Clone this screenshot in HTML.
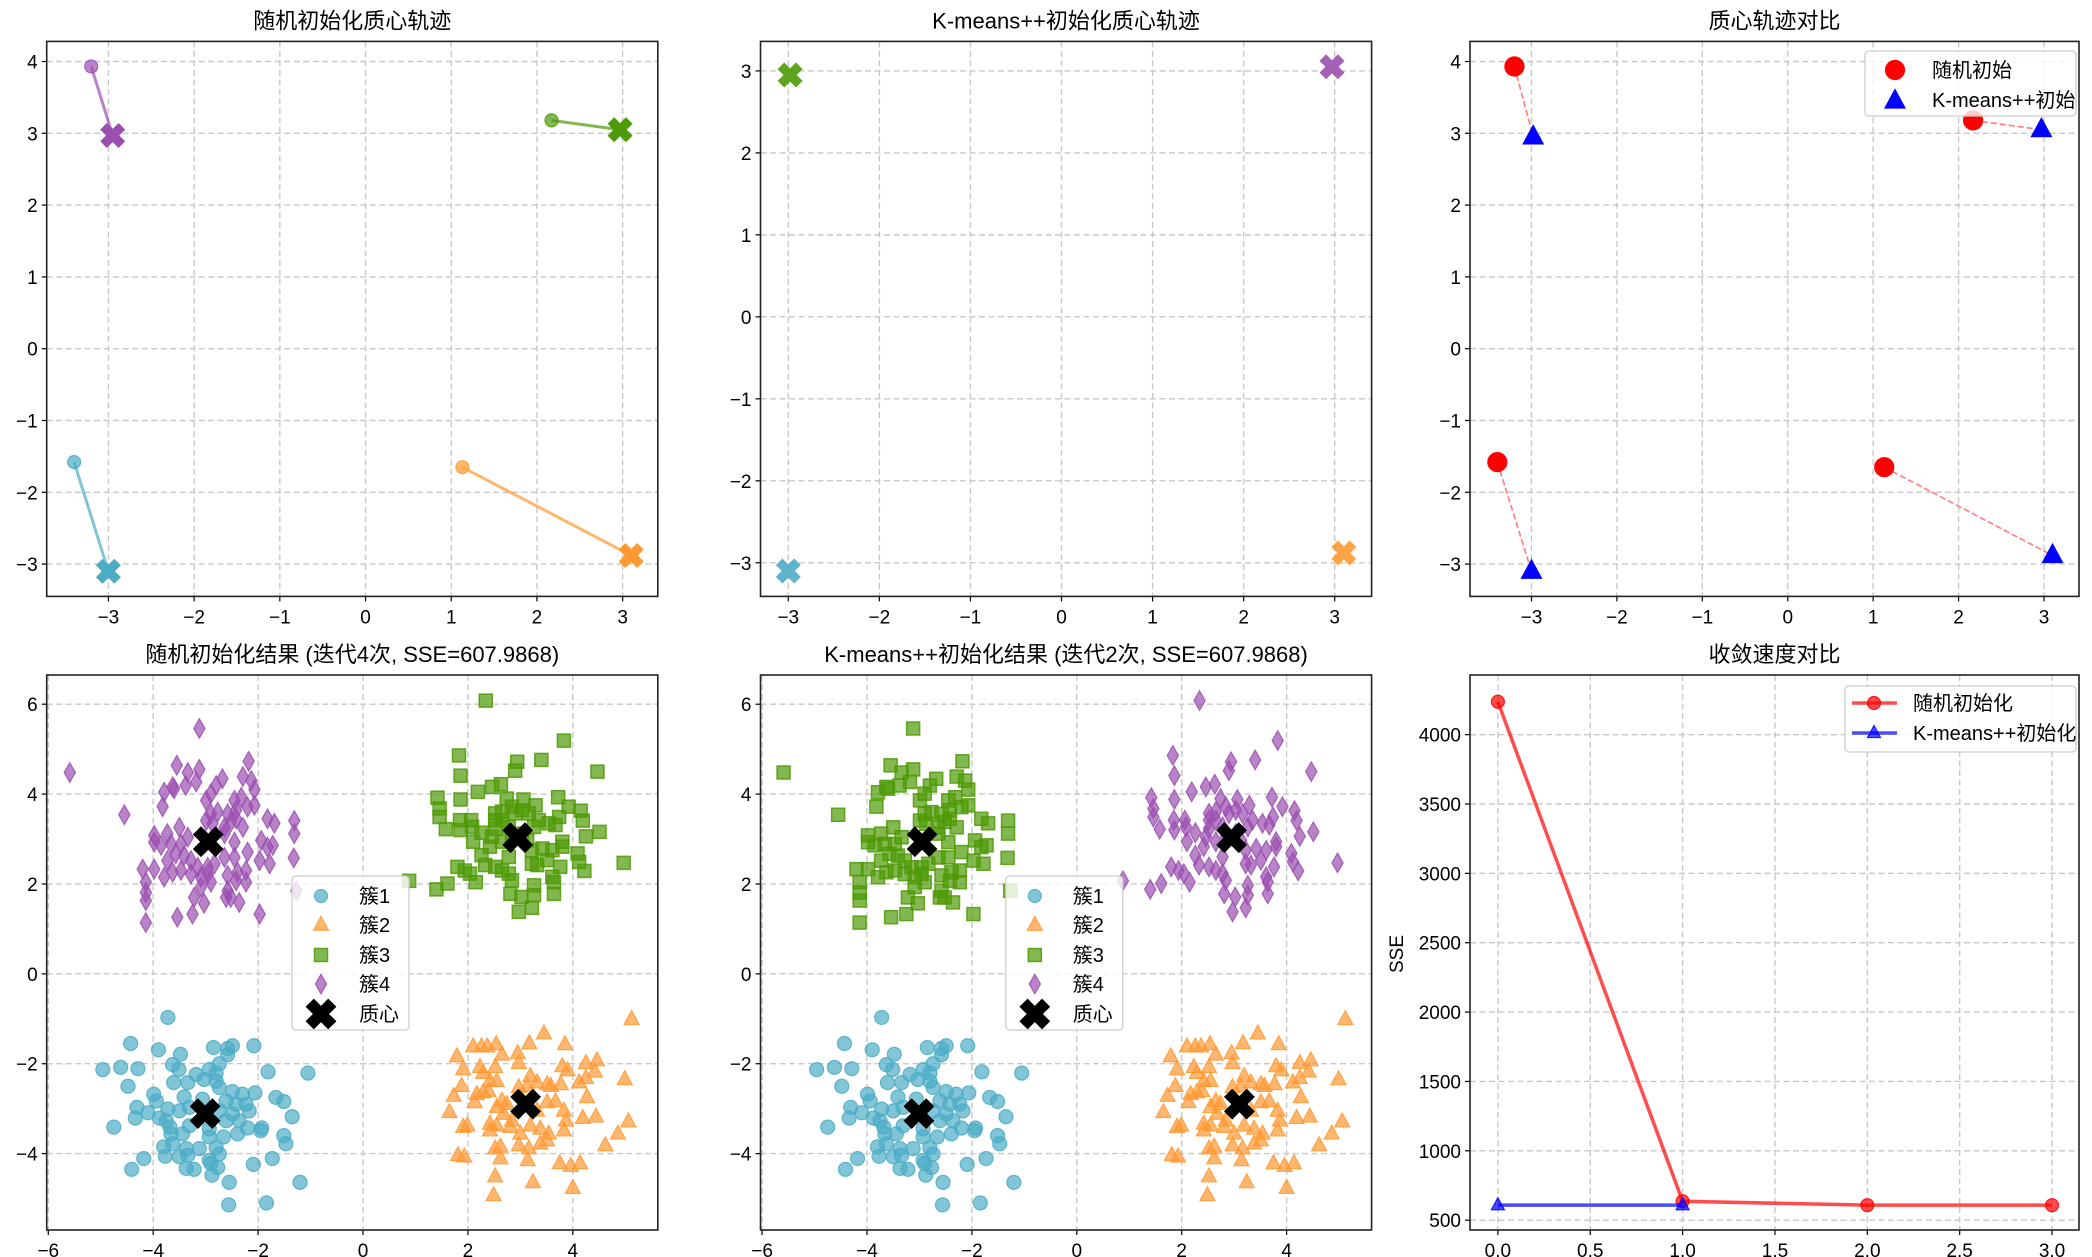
<!DOCTYPE html>
<html><head><meta charset="utf-8">
<style>
html,body{margin:0;padding:0;background:#fff;}
svg{display:block;font-family:"WenQuanYi Zen Hei","Liberation Sans","Noto Sans CJK SC",sans-serif;}
</style></head>
<body>
<svg id="fig" width="2092" height="1257" viewBox="0 0 2092 1257" xmlns="http://www.w3.org/2000/svg"></svg>
<script>
// ---------- data ----------
const trajInitX = [-3.2, 2.17, -3.4, 1.13];
const trajInitY = [3.93, 3.18, -1.58, -1.65];
const trajFinalX = [-2.95, 2.97, -3.0, 3.1];
const trajFinalY = [2.97, 3.05, -3.1, -2.88];
const kppX = [-2.98, 2.97, -3.0, 3.1];
const kppY = [2.95, 3.05, -3.1, -2.88];
const sseIter = [0, 1, 2, 3];
const sseRandom = [4237, 636, 608, 608];
const sseKppIter = [0, 1];
const sseKpp = [608, 608];
const centX = [-3.01, 3.10, 2.95, -2.95];
const centY = [-3.11, -2.90, 3.03, 2.94];
const clusterA = [[-3.72,-0.97],[-4.43,-1.55],[-3.90,-1.69],[-3.48,-1.79],[-2.85,-1.64],[-2.58,-1.66],[-2.49,-1.60],[-2.58,-1.80],[-2.08,-1.60],[-4.96,-2.13],[-4.62,-2.08],[-4.29,-2.11],[-3.63,-2.02],[-3.51,-2.13],[-2.74,-2.00],[-2.93,-2.13],[-2.80,-2.21],[-1.81,-2.18],[-1.05,-2.21],[-4.48,-2.50],[-3.61,-2.42],[-3.34,-2.42],[-3.18,-2.24],[-3.03,-2.35],[-2.80,-2.39],[-2.74,-2.53],[-2.49,-2.62],[-2.30,-2.68],[-2.06,-2.65],[-3.99,-2.68],[-3.94,-2.83],[-3.41,-2.74],[-3.06,-2.79],[-2.61,-2.83],[-2.42,-2.90],[-1.66,-2.75],[-1.51,-2.84],[-4.31,-2.97],[-4.34,-3.21],[-4.10,-3.09],[-3.88,-3.21],[-3.72,-3.01],[-3.50,-3.05],[-3.31,-2.97],[-2.74,-3.05],[-2.49,-3.12],[-2.17,-3.05],[-1.35,-3.18],[-4.75,-3.41],[-3.68,-3.41],[-3.66,-3.56],[-3.44,-3.56],[-3.31,-3.38],[-2.93,-3.45],[-2.93,-3.63],[-2.66,-3.63],[-2.39,-3.56],[-2.20,-3.43],[-1.93,-3.43],[-1.95,-3.49],[-1.51,-3.60],[-1.47,-3.78],[-3.80,-3.85],[-3.77,-4.06],[-3.63,-3.78],[-3.37,-3.89],[-3.50,-4.07],[-3.34,-4.04],[-3.12,-3.89],[-2.80,-3.87],[-2.74,-4.01],[-2.93,-4.15],[-1.73,-4.11],[-4.18,-4.11],[-4.41,-4.35],[-3.37,-4.33],[-3.22,-4.35],[-2.90,-4.22],[-2.77,-4.31],[-2.09,-4.24],[-2.88,-4.48],[-2.55,-4.64],[-1.20,-4.64],[-2.56,-5.14],[-1.84,-5.10],[-2.36,-3.27],[-2.61,-3.27],[-3.75,-3.27],[-2.23,-2.90]];
const clusterB = [[5.12,-1.01],[3.45,-1.33],[3.17,-1.55],[3.85,-1.57],[2.10,-1.62],[2.26,-1.62],[2.37,-1.62],[2.54,-1.57],[2.65,-1.80],[2.95,-1.77],[1.79,-1.84],[2.97,-1.99],[1.91,-2.13],[2.23,-2.08],[2.52,-2.08],[2.29,-2.21],[2.42,-2.39],[2.55,-2.39],[1.88,-2.50],[1.73,-2.72],[2.17,-2.68],[2.29,-2.64],[2.39,-2.61],[2.13,-2.86],[3.19,-2.28],[3.32,-2.42],[3.51,-2.46],[3.58,-2.50],[3.77,-2.46],[3.80,-2.06],[3.90,-2.15],[4.25,-1.99],[4.46,-1.93],[4.42,-2.18],[4.25,-2.32],[4.12,-2.42],[4.99,-2.35],[4.27,-2.75],[3.67,-2.84],[3.51,-2.86],[2.65,-2.83],[2.55,-2.97],[2.74,-2.90],[2.97,-2.53],[3.13,-2.50],[1.65,-3.08],[1.91,-3.41],[1.99,-3.38],[2.42,-3.34],[2.55,-3.38],[2.42,-3.49],[2.81,-3.41],[3.00,-3.56],[3.19,-3.38],[3.38,-3.45],[3.54,-3.56],[3.83,-3.05],[3.87,-3.27],[3.83,-3.49],[4.19,-3.21],[4.44,-3.18],[5.06,-3.29],[4.86,-3.56],[4.62,-3.82],[2.62,-3.85],[2.52,-3.89],[2.97,-3.82],[3.16,-3.89],[3.38,-3.78],[3.51,-3.71],[1.81,-4.04],[1.93,-4.07],[2.62,-4.11],[3.14,-4.15],[3.75,-4.22],[3.96,-4.28],[4.14,-4.22],[2.52,-4.51],[3.24,-4.64],[4.00,-4.77],[2.49,-4.93],[2.84,-3.27],[3.32,-3.05],[2.68,-3.12]];
const clusterC = [[2.34,6.08],[3.83,5.19],[1.83,4.86],[2.94,4.72],[3.40,4.76],[2.90,4.52],[4.47,4.50],[1.86,4.41],[2.19,4.05],[2.46,4.16],[2.63,4.22],[1.42,3.92],[1.86,3.88],[2.74,3.90],[3.06,3.88],[3.29,3.75],[3.72,3.93],[3.92,3.72],[4.15,3.63],[1.46,3.68],[1.46,3.49],[1.85,3.42],[2.06,3.42],[2.08,3.27],[1.58,3.22],[1.86,3.20],[2.26,3.14],[2.52,3.57],[2.65,3.42],[2.84,3.72],[3.03,3.64],[3.16,3.57],[3.35,3.42],[3.54,3.35],[3.74,3.49],[3.67,3.31],[4.19,3.41],[4.51,3.16],[4.25,3.06],[2.52,3.23],[2.46,3.05],[2.65,2.94],[2.84,3.05],[2.10,2.94],[2.42,2.83],[3.22,2.75],[3.42,2.79],[3.61,2.75],[3.80,2.94],[3.80,2.83],[4.09,2.68],[4.12,2.49],[4.22,2.29],[4.97,2.47],[2.26,2.64],[2.78,2.60],[1.80,2.38],[1.94,2.30],[2.04,2.23],[2.33,2.42],[2.52,2.38],[2.65,2.30],[2.78,2.23],[2.84,2.08],[3.22,2.45],[3.32,2.42],[3.51,2.53],[3.76,2.38],[3.61,2.16],[3.64,2.04],[0.88,2.07],[1.40,1.88],[1.61,2.01],[2.15,2.04],[2.81,1.78],[3.02,1.71],[3.26,1.75],[3.26,1.97],[3.64,1.78],[3.22,1.47],[2.97,1.38],[3.03,3.12],[3.13,2.97],[2.65,3.61],[2.90,3.57],[2.78,3.27],[3.26,3.27],[2.52,3.42]];
const clusterD = [[-5.59,4.48],[-3.12,5.46],[-4.55,3.54],[-3.55,4.64],[-3.34,4.48],[-3.12,4.55],[-2.18,4.73],[-2.29,4.39],[-2.68,4.34],[-2.13,4.30],[-2.07,4.10],[-3.18,4.27],[-3.38,4.19],[-3.63,4.16],[-3.79,4.04],[-3.60,4.12],[-2.80,4.19],[-2.90,4.01],[-2.99,3.86],[-3.82,3.72],[-2.45,3.86],[-2.32,3.93],[-2.20,3.71],[-2.07,3.75],[-2.90,3.56],[-2.77,3.60],[-2.58,3.56],[-2.42,3.64],[-2.29,3.26],[-2.99,3.41],[-2.87,3.34],[-2.64,3.26],[-2.52,3.38],[-2.42,3.45],[-1.82,3.45],[-1.69,3.35],[-1.31,3.41],[-1.31,3.12],[-3.98,3.08],[-3.73,3.12],[-3.50,3.26],[-3.34,3.04],[-3.47,2.89],[-3.66,2.89],[-3.85,2.86],[-3.98,2.93],[-2.45,2.93],[-2.64,3.12],[-1.94,2.97],[-1.82,2.82],[-1.72,2.86],[-1.32,2.58],[-1.97,2.52],[-1.78,2.45],[-2.20,2.71],[-2.45,2.59],[-2.64,2.59],[-2.83,2.45],[-2.96,2.37],[-3.15,2.37],[-3.28,2.52],[-3.41,2.63],[-3.57,2.67],[-3.73,2.52],[-4.20,2.33],[-3.98,2.33],[-3.79,2.15],[-3.63,2.26],[-3.47,2.30],[-3.28,2.22],[-3.09,2.15],[-2.96,2.22],[-2.58,2.19],[-2.39,2.26],[-2.23,2.30],[-2.42,2.07],[-2.23,2.04],[-3.09,1.93],[-2.90,2.04],[-4.14,2.04],[-4.14,1.81],[-4.14,1.63],[-3.22,1.70],[-3.03,1.57],[-2.61,1.70],[-2.58,1.85],[-2.36,1.59],[-2.52,1.70],[-3.54,1.26],[-3.25,1.33],[-4.14,1.14],[-1.97,1.33],[-1.27,1.85]];
const ticks1X = [-3,-2,-1,0,1,2,3];
const ticks1Y = [-3,-2,-1,0,1,2,3,4];
const ticks2Y = [-3,-2,-1,0,1,2,3];
const ticks4 = [-6,-4,-2,0,2,4];
const ticks4Y = [-4,-2,0,2,4,6];
const ticks6X = [0,0.5,1,1.5,2,2.5,3];
const ticks6Y = [500,1000,1500,2000,2500,3000,3500,4000];

// ---------- helpers ----------
const NS = "http://www.w3.org/2000/svg";
const fig = document.getElementById('fig');
const C = {cyan:'#4bacc6', orange:'#ff9933', green:'#4e9a06', purple:'#9b4fb0'};
function el(tag, attrs, parent){ const e=document.createElementNS(NS,tag); for(const k in attrs) e.setAttribute(k,attrs[k]); (parent||fig).appendChild(e); return e; }
function fmt(v,dec){ const s = dec ? v.toFixed(1) : String(v); return s.replace('-', '\u2212'); }
function makeAxes(name, box, xr, yr, xt, yt, title, xdec){
  const g = el('g',{});
  
  
  const sx = v => box.l + (v - xr[0])/(xr[1]-xr[0])*(box.r-box.l);
  const sy = v => box.b - (v - yr[0])/(yr[1]-yr[0])*(box.b-box.t);
  const grid = el('g',{stroke:'#c8c8c8','stroke-width':1.4,'stroke-dasharray':'6,3.5'}, g);
  
  
  xt.forEach(v=>{ const x=sx(v); el('line',{x1:x,x2:x,y1:box.t,y2:box.b},grid);
    el('line',{x1:x,x2:x,y1:box.b,y2:box.b+5,stroke:'#000','stroke-width':1.2},g);
    const t=el('text',{x:x,y:box.b+27,'font-size':19,'text-anchor':'middle',fill:'#000'},g); t.textContent=fmt(v,xdec);
    
     });
  yt.forEach(v=>{ const y=sy(v); el('line',{x1:box.l,x2:box.r,y1:y,y2:y},grid);
    el('line',{x1:box.l-5,x2:box.l,y1:y,y2:y,stroke:'#000','stroke-width':1.2},g);
    const t=el('text',{x:box.l-9,y:y+7,'font-size':19,'text-anchor':'end',fill:'#000'},g); t.textContent=fmt(v,false);
    
     });
  const tt = el('text',{x:(box.l+box.r)/2,y:box.t-13,'font-size':22,'text-anchor':'middle',fill:'#000'},g);
  tt.textContent = title;
  
  
  const marks = el('g',{},g);
  const fr = el('rect',{x:box.l,y:box.t,width:box.r-box.l,height:box.b-box.t,fill:'none',stroke:'#222','stroke-width':1.6},g);
  
  
  return {g, marks, sx, sy, box};
}
function xPath(cx, cy, s){
  const t=0.36, pts=[[t,1],[t,t],[1,t],[1,-t],[t,-t],[t,-1],[-t,-1],[-t,-t],[-1,-t],[-1,t],[-t,t],[-t,1]];
  const c=Math.SQRT1_2;
  return 'M'+pts.map(p=>[(cx+(p[0]*c-p[1]*c)*s).toFixed(1),(cy+(p[0]*c+p[1]*c)*s).toFixed(1)].join(',')).join('L')+'Z';
}
function marker(parent, type, x, y, s, fill, op){
  let e;
  if(type==='o') e=el('circle',{cx:x,cy:y,r:s,fill:fill,stroke:fill,'stroke-width':1.2,'fill-opacity':op,'stroke-opacity':Math.min(1,op+0.15)},parent);
  else if(type==='^') e=el('path',{d:`M${x},${y-s*1.15}L${x+s},${y+s*0.7}L${x-s},${y+s*0.7}Z`,fill:fill,stroke:fill,'stroke-width':1.2,'fill-opacity':op,'stroke-opacity':Math.min(1,op+0.15)},parent);
  else if(type==='s') e=el('rect',{x:x-s,y:y-s,width:2*s,height:2*s,fill:fill,stroke:fill,'stroke-width':1.5,'fill-opacity':op,'stroke-opacity':Math.min(1,op+0.15)},parent);
  else if(type==='d') e=el('path',{d:`M${x},${y-s*1.3}L${x+s*0.75},${y}L${x},${y+s*1.3}L${x-s*0.75},${y}Z`,fill:fill,stroke:fill,'stroke-width':1.2,'fill-opacity':op,'stroke-opacity':Math.min(1,op+0.15)},parent);
  else if(type==='X') e=el('path',{d:xPath(x,y,s),fill:fill,'fill-opacity':op},parent);
  return e;
}

// ---------- layout ----------
const colL=[46.7,760.5,1470], colR=[657.8,1371.6,2079];
const rowT=[41.4,675], rowB=[596.4,1230];
const rngX1=[-3.72,3.41], rngY1=[-3.45,4.28];

// Panel 1: random init trajectories
(function(){
  const A = makeAxes('random-init-trajectory-plot',{l:colL[0],r:colR[0],t:rowT[0],b:rowB[0]},rngX1,rngY1,ticks1X,ticks1Y,'随机初始化质心轨迹',false);
  const cols=[C.purple,C.green,C.cyan,C.orange];
  trajInitX.forEach((v,i)=>{
    const ln=el('line',{x1:A.sx(v),y1:A.sy(trajInitY[i]),x2:A.sx(trajFinalX[i]),y2:A.sy(trajFinalY[i]),stroke:cols[i],'stroke-width':3,'stroke-opacity':0.7},A.marks);
    
    
    const m=marker(A.marks,'o',A.sx(v),A.sy(trajInitY[i]),6.5,cols[i],0.7);
    
    
    const f=marker(A.marks,'X',A.sx(trajFinalX[i]),A.sy(trajFinalY[i]),13,cols[i],1);
    
    
  });
})();

// Panel 2: kmeans++ centroids
(function(){
  const A = makeAxes('kmeanspp-trajectory-plot',{l:colL[1],r:colR[1],t:rowT[0],b:rowB[0]},[-3.305,3.405],[-3.41,3.36],ticks1X,ticks2Y,'K-means++初始化质心轨迹',false);
  const cols=[C.green,C.purple,C.cyan,C.orange];
  kppX.forEach((v,i)=>{
    const f=marker(A.marks,'X',A.sx(v),A.sy(kppY[i]),13,cols[i],0.9);
    
    
  });
})();

// Panel 3: comparison
(function(){
  const A = makeAxes('centroid-comparison-plot',{l:colL[2],r:colR[2],t:rowT[0],b:rowB[0]},rngX1,rngY1,ticks1X,ticks1Y,'质心轨迹对比',false);
  trajInitX.forEach((v,i)=>{
    const ln=el('line',{x1:A.sx(v),y1:A.sy(trajInitY[i]),x2:A.sx(kppX[i]),y2:A.sy(kppY[i]),stroke:'#ff0000','stroke-width':1.7,'stroke-opacity':0.5,'stroke-dasharray':'6,3'},A.marks);
    
    
  });
  trajInitX.forEach((v,i)=>{
    const m=marker(A.marks,'o',A.sx(v),A.sy(trajInitY[i]),9.5,'#ff0000',1);
    
    
  });
  kppX.forEach((v,i)=>{
    const m=marker(A.marks,'^',A.sx(v),A.sy(kppY[i]),10,'#0000ff',1);
    
    
  });
  const lg=el('g',{},A.g);
  
  
  el('rect',{x:1865,y:51,width:211,height:65,rx:4,fill:'#fff','fill-opacity':0.8,stroke:'#ccc','stroke-width':1.3},lg);
  marker(lg,'o',1895,70,9.5,'#ff0000',1);
  marker(lg,'^',1895,101,10,'#0000ff',1);
  const t1=el('text',{x:1932,y:77,'font-size':20},lg); t1.textContent='随机初始';
  
  
  const t2=el('text',{x:1932,y:107,'font-size':20},lg); t2.textContent='K-means++初始';
  
  
})();

// Panels 4 & 5: cluster results
function clusterPanel(name, col, title, assign){
  const A = makeAxes(name,{l:colL[col],r:colR[col],t:rowT[1],b:rowB[1]},[-6.03,5.62],[-5.70,6.65],ticks4,ticks4Y,title,false);
  assign.forEach(a=>{
    a.pts.forEach(p=>{
      const m=marker(A.marks,a.type,A.sx(p[0]),A.sy(p[1]),a.size,a.color,0.7);
      
      
    });
  });
  centX.forEach((v,i)=>{
    const m=marker(A.marks,'X',A.sx(v),A.sy(centY[i]),16,'#000',1);
    
    
  });
  const dx = colL[col]-colL[0];
  const lg=el('g',{transform:`translate(${dx},0)`},A.g);
  
  
  el('rect',{x:292,y:876,width:117,height:154,rx:4,fill:'#fff','fill-opacity':0.8,stroke:'#ccc','stroke-width':1.3},lg);
  const labels=['簇1','簇2','簇3','簇4','质心'];
  const types=[['o',C.cyan,6.5],['^',C.orange,7.5],['s',C.green,6.5],['d',C.purple,7.5],['X','#000',16]];
  const ys=[896,925,955,984,1014];
  labels.forEach((lab,i)=>{
    marker(lg,types[i][0],321,ys[i],types[i][2],types[i][1],i===4?1:0.7);
    const t=el('text',{x:359,y:ys[i]+7,'font-size':20},lg); t.textContent=lab;
    
    
  });
}
clusterPanel('random-init-result-plot',0,'随机初始化结果 (迭代4次, SSE=607.9868)',[
  {pts:clusterA,type:'o',color:C.cyan,size:7},
  {pts:clusterB,type:'^',color:C.orange,size:7.5},
  {pts:clusterC,type:'s',color:C.green,size:6.5},
  {pts:clusterD,type:'d',color:C.purple,size:7.5}]);
clusterPanel('kmeanspp-result-plot',1,'K-means++初始化结果 (迭代2次, SSE=607.9868)',[
  {pts:clusterA,type:'o',color:C.cyan,size:7},
  {pts:clusterB,type:'^',color:C.orange,size:7.5},
  {pts:clusterD,type:'s',color:C.green,size:6.5},
  {pts:clusterC,type:'d',color:C.purple,size:7.5}]);

// Panel 6: convergence
(function(){
  const A = makeAxes('convergence-plot',{l:colL[2],r:colR[2],t:rowT[1],b:rowB[1]},[-0.151,3.146],[429,4430],ticks6X,ticks6Y,'收敛速度对比',true);
  const yl=el('text',{x:0,y:0,'font-size':19,'text-anchor':'middle',transform:'translate(1403,954) rotate(-90)'},A.g);
  yl.textContent='SSE';
  
  
  const pr=el('polyline',{points:sseIter.map((v,i)=>A.sx(v)+','+A.sy(sseRandom[i])).join(' '),fill:'none',stroke:'#ff0000','stroke-width':3.5,'stroke-opacity':0.7},A.marks);
  
  
  sseIter.forEach((v,i)=>{
    const m=marker(A.marks,'o',A.sx(v),A.sy(sseRandom[i]),6.5,'#ff0000',0.7);
    
    
  });
  const pb=el('polyline',{points:sseKppIter.map((v,i)=>A.sx(v)+','+A.sy(sseKpp[i])).join(' '),fill:'none',stroke:'#0000ff','stroke-width':3.5,'stroke-opacity':0.7},A.marks);
  
  
  sseKppIter.forEach((v,i)=>{
    const m=marker(A.marks,'^',A.sx(v),A.sy(sseKpp[i]),6.5,'#0000ff',0.7);
    
    
  });
  const lg=el('g',{},A.g);
  
  
  el('rect',{x:1845,y:686,width:231,height:66,rx:4,fill:'#fff','fill-opacity':0.8,stroke:'#ccc','stroke-width':1.3},lg);
  el('line',{x1:1852,x2:1897,y1:703,y2:703,stroke:'#ff0000','stroke-width':3.5,'stroke-opacity':0.7},lg);
  marker(lg,'o',1874,703,6.5,'#ff0000',0.7);
  el('line',{x1:1852,x2:1897,y1:733,y2:733,stroke:'#0000ff','stroke-width':3.5,'stroke-opacity':0.7},lg);
  marker(lg,'^',1874,733,6.5,'#0000ff',0.7);
  const t1=el('text',{x:1913,y:710,'font-size':20},lg); t1.textContent='随机初始化';
  
  
  const t2=el('text',{x:1913,y:740,'font-size':20},lg); t2.textContent='K-means++初始化';
  
  
})();
</script>
</body></html>
